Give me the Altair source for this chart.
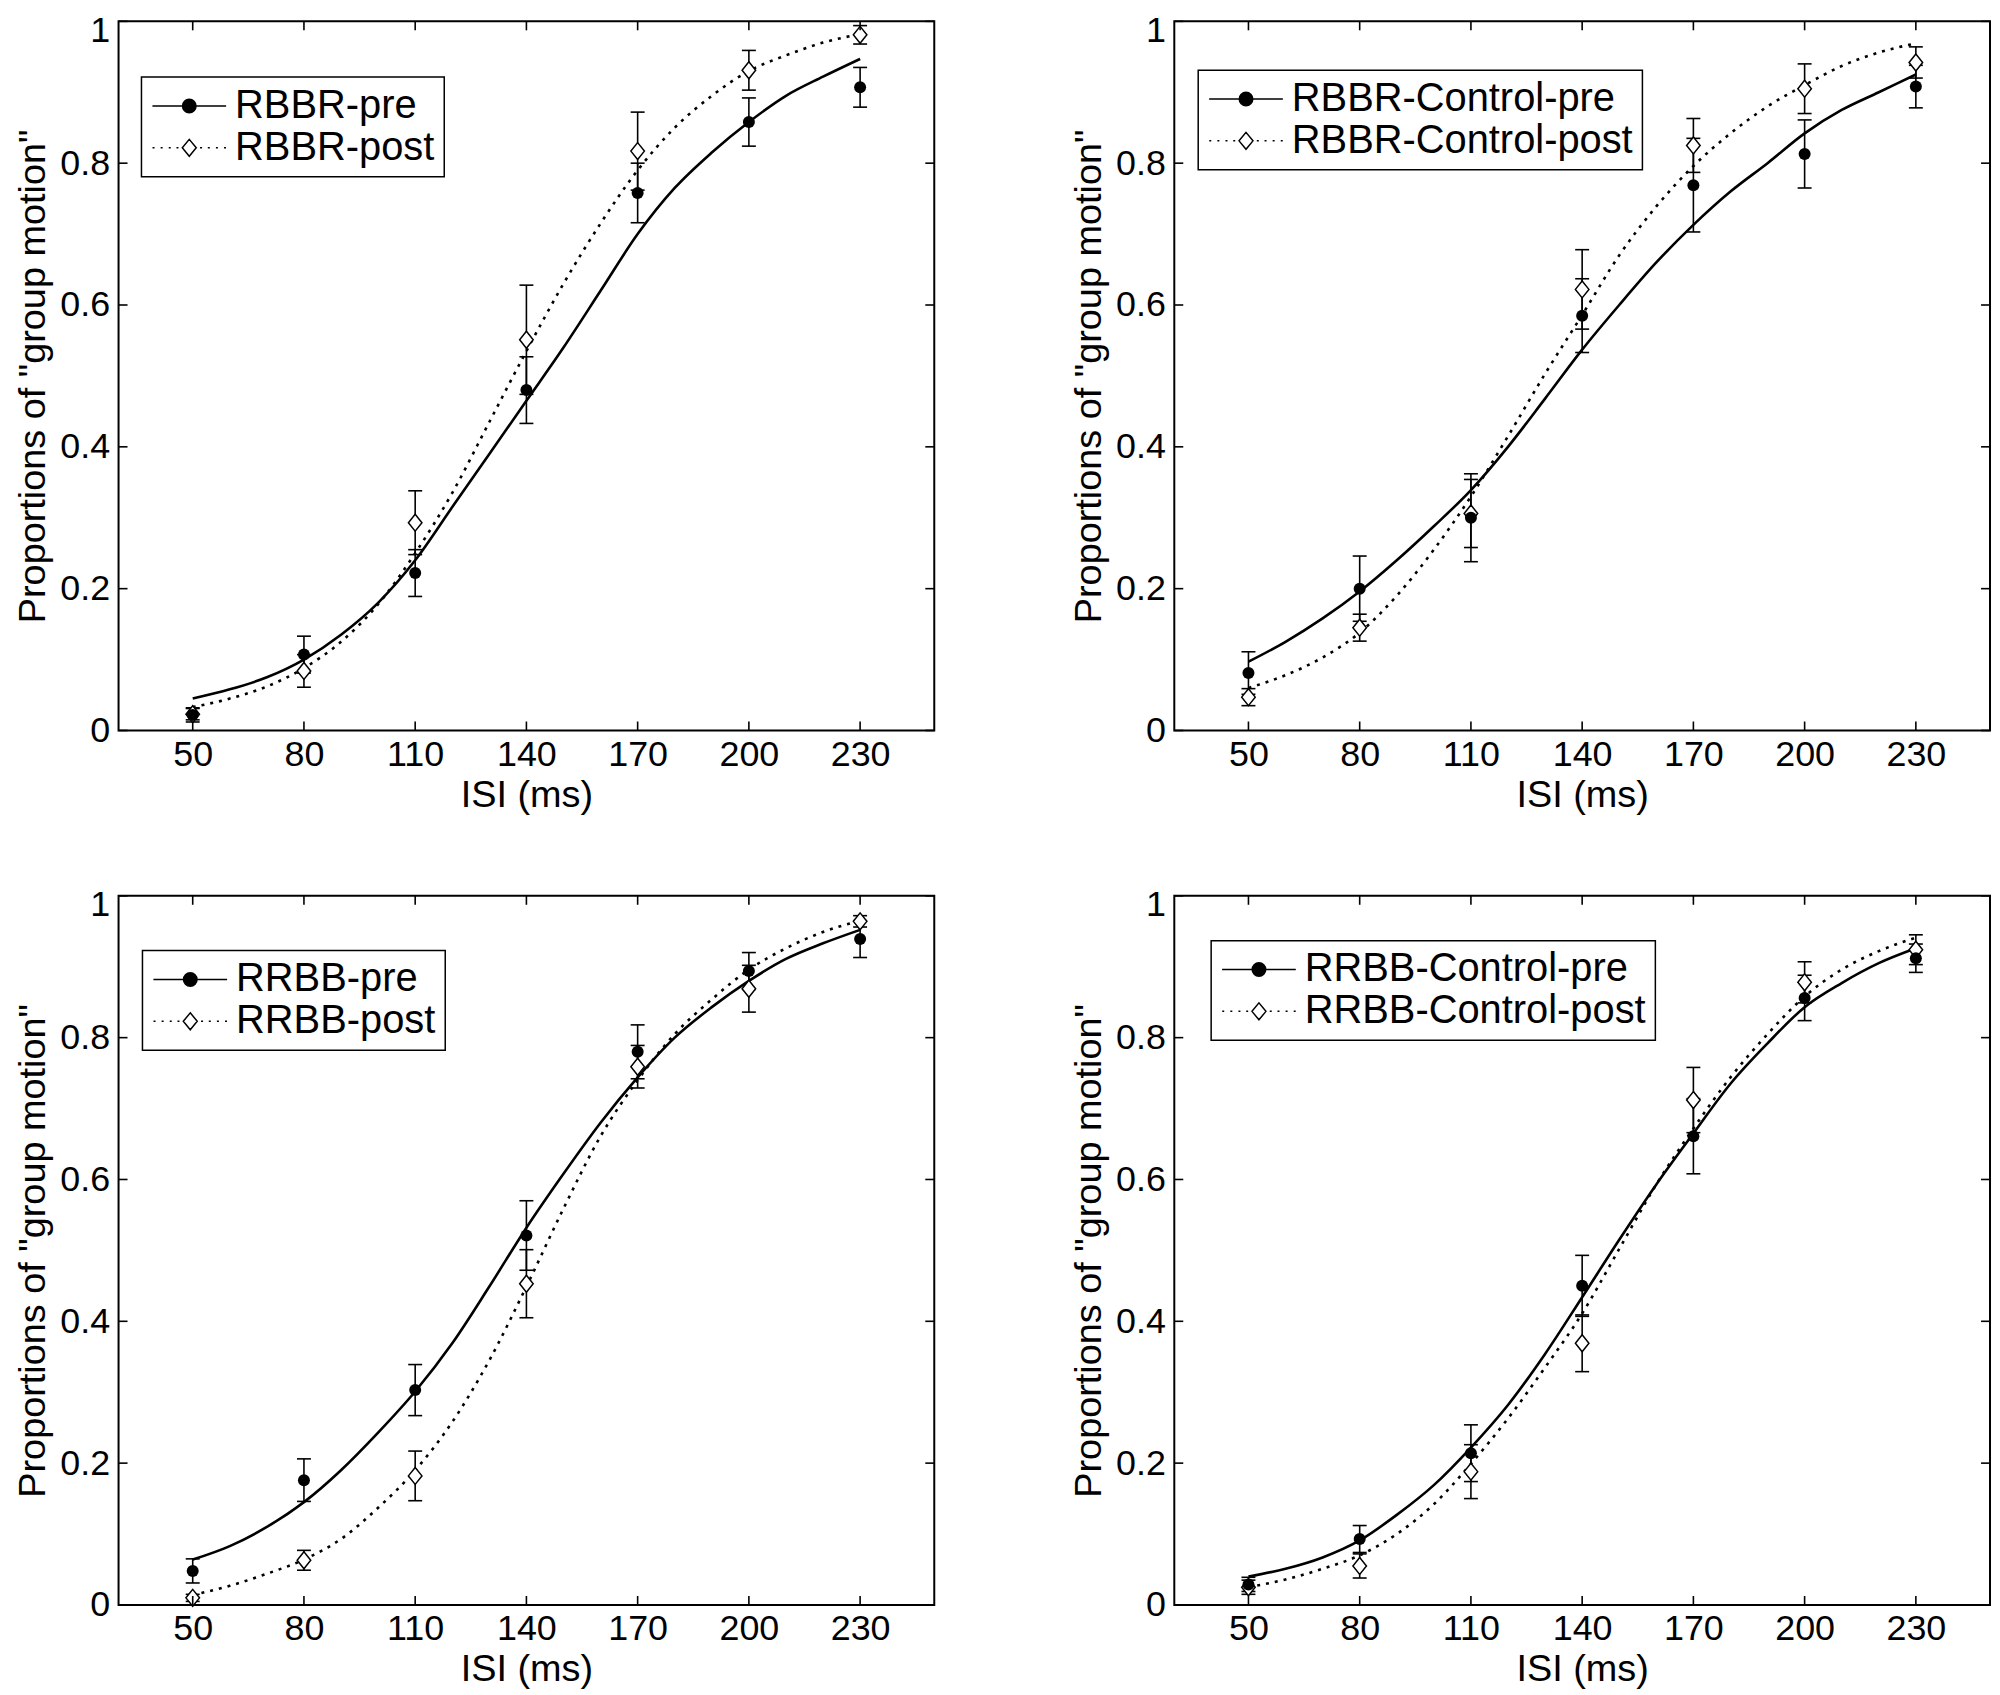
import altair as alt
import pandas as pd

FONT = "Liberation Sans"

ISI = [50, 80, 110, 140, 170, 200, 230]
FIT_X = [50, 60, 70, 80, 90, 100, 110, 120, 130, 140, 150, 160, 170, 180, 190, 200, 210, 220, 230]
X_TICKS = [50, 80, 110, 140, 170, 200, 230]
Y_TICKS = [0, 0.2, 0.4, 0.6, 0.8, 1]

# ---- Panel A: RBBR ----
A_LABELS = ["RBBR-pre", "RBBR-post"]
A_PRE = [0.022, 0.107, 0.222, 0.480, 0.758, 0.858, 0.907]
A_PRE_ERR = [0.010, 0.026, 0.033, 0.047, 0.042, 0.034, 0.028]
A_POST = [0.023, 0.084, 0.293, 0.551, 0.817, 0.931, 0.981]
A_POST_ERR = [0.008, 0.023, 0.045, 0.077, 0.055, 0.028, 0.013]
A_PRE_FIT = [0.045, 0.058, 0.075, 0.100, 0.135, 0.180, 0.240, 0.315, 0.390, 0.465, 0.540, 0.620,
             0.700, 0.765, 0.815, 0.858, 0.895, 0.922, 0.947]
A_POST_FIT = [0.033, 0.045, 0.062, 0.088, 0.125, 0.178, 0.250, 0.335, 0.435, 0.535, 0.630, 0.715,
              0.790, 0.850, 0.895, 0.930, 0.952, 0.970, 0.982]

# ---- Panel B: RBBR-Control ----
B_LABELS = ["RBBR-Control-pre", "RBBR-Control-post"]
B_PRE = [0.081, 0.200, 0.300, 0.585, 0.769, 0.813, 0.908]
B_PRE_ERR = [0.030, 0.046, 0.062, 0.052, 0.066, 0.048, 0.030]
B_POST = [0.047, 0.145, 0.306, 0.622, 0.825, 0.905, 0.942]
B_POST_ERR = [0.012, 0.019, 0.048, 0.056, 0.038, 0.035, 0.022]
B_PRE_FIT = [0.097, 0.125, 0.158, 0.196, 0.240, 0.288, 0.339, 0.400, 0.468, 0.537, 0.600, 0.660,
             0.713, 0.760, 0.800, 0.842, 0.875, 0.900, 0.925]
B_POST_FIT = [0.060, 0.078, 0.103, 0.138, 0.190, 0.255, 0.330, 0.415, 0.503, 0.586, 0.670, 0.739,
              0.796, 0.842, 0.880, 0.910, 0.937, 0.956, 0.969]

# ---- Panel C: RRBB ----
C_LABELS = ["RRBB-pre", "RRBB-post"]
C_PRE = [0.048, 0.176, 0.303, 0.521, 0.780, 0.894, 0.939]
C_PRE_ERR = [0.017, 0.030, 0.036, 0.049, 0.038, 0.026, 0.026]
C_POST = [0.010, 0.063, 0.182, 0.453, 0.759, 0.869, 0.964]
C_POST_ERR = [0.005, 0.014, 0.035, 0.048, 0.030, 0.033, 0.008]
C_PRE_FIT = [0.064, 0.083, 0.110, 0.145, 0.190, 0.243, 0.301, 0.369, 0.449, 0.532, 0.608, 0.680,
             0.744, 0.800, 0.843, 0.880, 0.911, 0.933, 0.952]
C_POST_FIT = [0.014, 0.027, 0.044, 0.064, 0.093, 0.137, 0.190, 0.258, 0.345, 0.449, 0.559, 0.661,
              0.740, 0.805, 0.854, 0.896, 0.926, 0.949, 0.965]

# ---- Panel D: RRBB-Control ----
D_LABELS = ["RRBB-Control-pre", "RRBB-Control-post"]
D_PRE = [0.029, 0.093, 0.214, 0.450, 0.661, 0.856, 0.912]
D_PRE_ERR = [0.010, 0.019, 0.040, 0.043, 0.053, 0.032, 0.020]
D_POST = [0.025, 0.055, 0.188, 0.369, 0.712, 0.878, 0.924]
D_POST_ERR = [0.010, 0.017, 0.038, 0.040, 0.046, 0.029, 0.021]
D_PRE_FIT = [0.040, 0.051, 0.067, 0.091, 0.127, 0.169, 0.222, 0.282, 0.354, 0.434, 0.515, 0.593,
             0.665, 0.735, 0.792, 0.843, 0.877, 0.905, 0.926]
D_POST_FIT = [0.025, 0.036, 0.051, 0.070, 0.100, 0.142, 0.199, 0.263, 0.335, 0.411, 0.502, 0.593,
              0.672, 0.744, 0.805, 0.858, 0.896, 0.922, 0.941]

# ---- layout / style ----
W, H = 819, 712
TICK = 9
LEG_UNIT = 10.0                 # px per path unit (sqrt(size)/2)
LEG_SIZE = (2 * LEG_UNIT) ** 2
HALF = 37.0 / LEG_UNIT          # half length of legend line sample
DIAMOND = "M0,-1L0.8,0L0,1L-0.8,0Z"


def ring(rad):
    return "M{a:.4f},0A{r:.4f},{r:.4f},0,1,1,{b:.4f},0A{r:.4f},{r:.4f},0,1,1,{a:.4f},0Z".format(
        a=-rad, b=rad, r=rad)


# legend symbol: solid line + filled dot (concentric rings) / dotted line + open diamond
LEG_PRE = "M{:.3f},0H{:.3f}".format(-HALF, HALF) + "".join(
    ring(px / LEG_UNIT) for px in [6.8, 5.7, 4.6, 3.5, 2.4, 1.3, 0.4])
dh, dw = 8.5 / LEG_UNIT, 7.0 / LEG_UNIT
dots = "".join("M{:.3f},0H{:.3f}".format(c * HALF - 0.1, c * HALF + 0.1)
               for c in [-0.97, -0.75, -0.53, -0.32, 0.32, 0.53, 0.75, 0.97])
LEG_POST = dots + "M0,{m:.4f}L{w:.4f},0L0,{h:.4f}L{mw:.4f},0Z".format(m=-dh, w=dw, h=dh, mw=-dw)

xs = alt.Scale(domain=[30, 250], nice=False, zero=False)
ys = alt.Scale(domain=[0, 1], nice=False, zero=False)
XAXIS = alt.Axis(values=X_TICKS, title="ISI (ms)", labelPadding=7, titlePadding=4,
                 ticks=False, tickSize=0, domain=False, grid=False)
YAXIS = alt.Axis(values=Y_TICKS, title='Proportions of "group motion"', format="~g",
                 labelPadding=9, titlePadding=7, ticks=False, tickSize=0, domain=False, grid=False,
                 labelOffset=alt.condition("datum.value == 1", alt.value(9), alt.value(0)))


def X(field):
    return alt.X(field, scale=xs, axis=XAXIS)


def Y(field):
    return alt.Y(field, scale=ys, axis=YAXIS)


def panel(labels, pre, pre_err, post, post_err, pre_fit, post_fit, lx, ly):
    pts = pd.DataFrame({
        "isi": ISI + ISI,
        "p": pre + post,
        "err": pre_err + post_err,
        "series": [labels[0]] * len(ISI) + [labels[1]] * len(ISI),
    })
    fit = pd.DataFrame({
        "x": FIT_X + FIT_X,
        "y": pre_fit + post_fit,
        "series": [labels[0]] * len(FIT_X) + [labels[1]] * len(FIT_X),
    })
    xt = pd.DataFrame({"v": X_TICKS})
    yt = pd.DataFrame({"v": Y_TICKS})

    pre_line = alt.Chart(fit).transform_filter(alt.datum.series == labels[0]).mark_line(
        color="black", strokeWidth=2.6, interpolate="monotone").encode(x=X("x:Q"), y=Y("y:Q"))
    post_line = alt.Chart(fit).transform_filter(alt.datum.series == labels[1]).mark_line(
        color="black", strokeWidth=2.6, strokeDash=[3, 6], interpolate="monotone").encode(
        x=X("x:Q"), y=Y("y:Q"))

    eb = alt.Chart(pts).transform_calculate(lo="datum.p - datum.err", hi="datum.p + datum.err")
    bars = eb.mark_rule(color="black", strokeWidth=1.6).encode(x=X("isi:Q"), y=Y("lo:Q"), y2="hi:Q")
    cap_lo = eb.mark_tick(orient="horizontal", color="black", size=14, thickness=1.6, opacity=1).encode(
        x=X("isi:Q"), y=Y("lo:Q"))
    cap_hi = eb.mark_tick(orient="horizontal", color="black", size=14, thickness=1.6, opacity=1).encode(
        x=X("isi:Q"), y=Y("hi:Q"))

    post_pts = alt.Chart(pts).transform_filter(alt.datum.series == labels[1]).mark_point(
        shape=DIAMOND, size=289, fill="white", stroke="black", strokeWidth=1.5,
        filled=False, opacity=1).encode(x=X("isi:Q"), y=Y("p:Q"))
    pre_pts = alt.Chart(pts).transform_filter(alt.datum.series == labels[0]).mark_point(
        shape="circle", size=145, filled=True, color="black", opacity=1).encode(
        x=X("isi:Q"), y=Y("p:Q"))

    tick_style = dict(color="black", strokeWidth=1.6)
    xt_bot = alt.Chart(xt).mark_rule(**tick_style).encode(
        x=X("v:Q"), y=alt.value(H), y2=alt.value(H - TICK))
    xt_top = alt.Chart(xt).mark_rule(**tick_style).encode(
        x=X("v:Q"), y=alt.value(0), y2=alt.value(TICK))
    yt_left = alt.Chart(yt).mark_rule(**tick_style).encode(
        y=Y("v:Q"), x=alt.value(0), x2=alt.value(TICK))
    yt_right = alt.Chart(yt).mark_rule(**tick_style).encode(
        y=Y("v:Q"), x=alt.value(W), x2=alt.value(W - TICK))

    leg = alt.Legend(title=None, orient="none", legendX=lx, legendY=ly,
                     labelFont=FONT, labelFontSize=40, labelColor="black", labelLimit=1000,
                     labelOffset=26, symbolSize=LEG_SIZE, symbolStrokeWidth=1.5,
                     symbolStrokeColor="black", symbolFillColor="white", symbolOffset=19,
                     strokeColor="black", fillColor="white", padding=9, rowPadding=2)
    legend_layer = alt.Chart(pts).transform_filter("false").mark_point(
        size=LEG_SIZE, color="black", filled=False, opacity=1, strokeWidth=1.5).encode(
        shape=alt.Shape("series:N", scale=alt.Scale(domain=labels, range=[LEG_PRE, LEG_POST]),
                        legend=leg))

    return alt.layer(pre_line, post_line, bars, cap_lo, cap_hi, post_pts, pre_pts,
                     xt_bot, xt_top, yt_left, yt_right, legend_layer).properties(width=W, height=H)


pa = panel(A_LABELS, A_PRE, A_PRE_ERR, A_POST, A_POST_ERR, A_PRE_FIT, A_POST_FIT, 23, 56)
pb = panel(B_LABELS, B_PRE, B_PRE_ERR, B_POST, B_POST_ERR, B_PRE_FIT, B_POST_FIT, 24, 49)
pc = panel(C_LABELS, C_PRE, C_PRE_ERR, C_POST, C_POST_ERR, C_PRE_FIT, C_POST_FIT, 24, 55)
pd_ = panel(D_LABELS, D_PRE, D_PRE_ERR, D_POST, D_POST_ERR, D_PRE_FIT, D_POST_FIT, 37, 45)

top = alt.hconcat(pa, pb, spacing=133).resolve_scale(shape="independent")
bot = alt.hconcat(pc, pd_, spacing=133).resolve_scale(shape="independent")

chart = alt.vconcat(top, bot, spacing=71).resolve_scale(
    shape="independent"
).properties(
    padding={"left": 5, "top": 0, "right": 0, "bottom": 0}
).configure_view(
    stroke="black", strokeWidth=2
).configure_axis(
    labelFont=FONT, labelFontSize=36, labelColor="black",
    titleFont=FONT, titleFontSize=38, titleFontWeight="normal", titleColor="black"
).configure_legend(
    strokeWidth=1.5
)

chart.save("out.html", embed_options={"renderer": "svg", "actions": False})
